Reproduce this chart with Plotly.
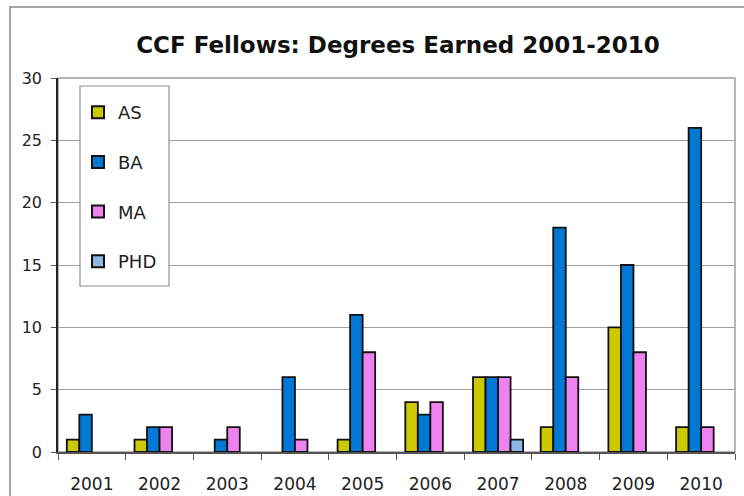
import plotly.graph_objects as go

years = ["2001", "2002", "2003", "2004", "2005", "2006", "2007", "2008", "2009", "2010"]
as_vals = [1, 1, 0, 0, 1, 4, 6, 2, 10, 2]
ba_vals = [3, 2, 1, 6, 11, 3, 6, 18, 15, 26]
ma_vals = [0, 2, 2, 1, 8, 4, 6, 6, 8, 2]
phd_vals = [0, 0, 0, 0, 0, 0, 1, 0, 0, 0]

series_names = ["AS", "BA", "MA", "PHD"]
series_colors = ["#CEC800", "#0078D4", "#EE82EE", "#8DB8E6"]
series_vals = [as_vals, ba_vals, ma_vals, phd_vals]

FONT = "DejaVu Sans"

fig = go.Figure()
for name, color, vals in zip(series_names, series_colors, series_vals):
    fig.add_trace(go.Bar(
        x=years,
        y=[v if v else None for v in vals],
        name=name,
        legendgroup=name,
        marker=dict(color=color, line=dict(color="#111111", width=1.8)),
    ))

W, H = 744, 496
L, R, T, B = 58, 9, 78, 44
pw = W - L - R
ph = H - T - B

def px_x(p):
    return (p - L) / pw

def px_y(p):
    return (H - B - p) / ph

fig.update_layout(
    width=W, height=H,
    margin=dict(l=L, r=R, t=T, b=B, autoexpand=False),
    paper_bgcolor="white",
    plot_bgcolor="white",
    barmode="group",
    bargap=0.26,
    bargroupgap=0,
    font=dict(family=FONT, size=16, color="#222222"),
    title=dict(
        text="<b>CCF Fellows: Degrees Earned 2001-2010</b>",
        x=398 / W, xanchor="center",
        y=1 - 45 / H, yanchor="middle",
        font=dict(family=FONT, size=23, color="#111111"),
    ),
    legend=dict(
        x=px_x(78), y=px_y(94), xanchor="left", yanchor="top",
        bgcolor="rgba(0,0,0,0)",
        borderwidth=0,
        tracegroupgap=23.3,
        font=dict(family=FONT, size=18, color="#222222"),
        itemsizing="constant",
        itemwidth=30,
    ),
    xaxis=dict(
        automargin=False,
        showgrid=False,
        showline=True, linecolor="#555555", linewidth=1.5,
        ticks="outside", tickson="boundaries", ticklen=6, tickcolor="#555555",
        ticklabelstandoff=16,
        tickfont=dict(family=FONT, size=17, color="#222222"),
    ),
    yaxis=dict(
        automargin=False,
        range=[0, 30],
        dtick=5,
        showgrid=True, gridcolor="#A0A0A0", gridwidth=1,
        showline=True, linecolor="#222222", linewidth=1.5,
        ticks="outside", ticklen=5, tickcolor="#555555",
        ticklabelstandoff=6,
        zeroline=False,
        tickfont=dict(family=FONT, size=16, color="#222222"),
    ),
    shapes=[
        dict(type="rect", xref="paper", yref="paper",
             x0=px_x(10), x1=px_x(780), y0=px_y(7), y1=px_y(520),
             line=dict(color="#8A8A8A", width=1.5), fillcolor="rgba(0,0,0,0)", layer="below"),
        dict(type="rect", xref="paper", yref="paper",
             x0=0, x1=1, y0=0, y1=1,
             line=dict(color="#A0A0A0", width=1.5), fillcolor="rgba(0,0,0,0)", layer="below"),
        dict(type="rect", xref="paper", yref="paper",
             x0=px_x(80), x1=px_x(169), y0=px_y(86), y1=px_y(286),
             line=dict(color="#909090", width=1.2), fillcolor="white", layer="above"),
    ],
)

fig.write_html(
    "out.html",
    config={"displayModeBar": False},
    post_script="document.body.style.margin='0';document.body.style.padding='0';document.body.style.overflow='hidden';",
)
